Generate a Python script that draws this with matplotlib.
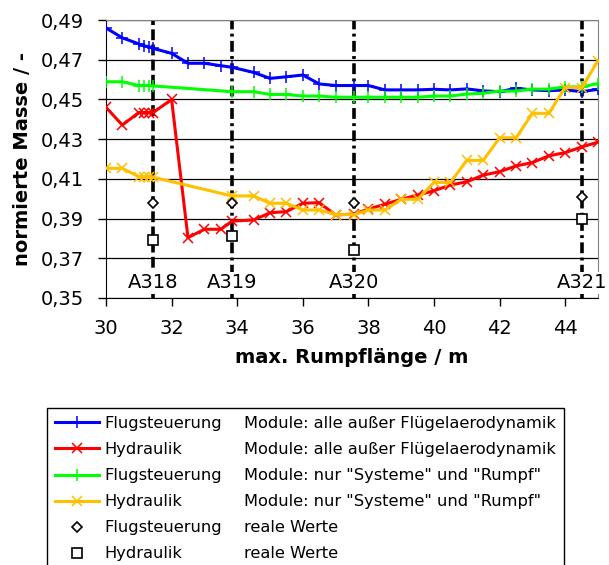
import matplotlib
matplotlib.use('Agg')
import matplotlib.pyplot as plt
from matplotlib.lines import Line2D
from matplotlib.ticker import FuncFormatter

matplotlib.rcParams.update({'font.family': 'DejaVu Sans', 'font.size': 14})

# x positions (max. Rumpflaenge in m)
x_all = [30, 30.5, 31, 31.15, 31.3, 31.44, 32, 32.5, 33, 33.5, 33.84, 34.5, 35, 35.5,
         36, 36.5, 37, 37.57, 38, 38.5, 39, 39.5, 40, 40.5, 41, 41.5, 42, 42.5, 43,
         43.5, 44, 44.51, 45]
x_sys = [30, 30.5, 31, 31.15, 31.3, 31.44, 33.84, 34.5, 35, 35.5,
         36, 36.5, 37, 37.57, 38, 38.5, 39, 39.5, 40, 40.5, 41, 41.5, 42, 42.5, 43,
         43.5, 44, 44.51, 45]

flug_alle = [0.486, 0.481, 0.478, 0.477, 0.4766, 0.4757, 0.4732, 0.4682, 0.4682, 0.467,
             0.4662, 0.4636, 0.4606, 0.4614, 0.4623, 0.4578, 0.457, 0.457, 0.457, 0.4548,
             0.4548, 0.4548, 0.4551, 0.4548, 0.4553, 0.4543, 0.4539, 0.4556, 0.4548,
             0.4544, 0.4548, 0.4539, 0.4551]
hyd_alle = [0.446, 0.4371, 0.4434, 0.4434, 0.4434, 0.4434, 0.450, 0.3804, 0.3846, 0.3846,
            0.3887, 0.3893, 0.3929, 0.3935, 0.3977, 0.398, 0.3918, 0.3923, 0.3948, 0.3972,
            0.3997, 0.4018, 0.404, 0.4069, 0.4085, 0.4119, 0.4136, 0.4165, 0.4182,
            0.4216, 0.4232, 0.4261, 0.4285]
flug_sys = [0.4589, 0.4589, 0.457, 0.457, 0.457, 0.4568, 0.4539, 0.4539, 0.4525, 0.4525,
            0.4517, 0.4517, 0.4511, 0.4511, 0.4511, 0.4511, 0.4511, 0.4511, 0.4517, 0.4517,
            0.4527, 0.4531, 0.4542, 0.4542, 0.4552, 0.4552, 0.4563, 0.4563, 0.458]
hyd_sys = [0.4153, 0.4153, 0.4111, 0.4111, 0.4111, 0.4108, 0.4014, 0.4014, 0.3977, 0.3977,
           0.3943, 0.3943, 0.392, 0.392, 0.3943, 0.3943, 0.3997, 0.3997, 0.4082, 0.4082,
           0.4193, 0.4193, 0.4307, 0.4307, 0.443, 0.443, 0.456, 0.456, 0.4695]

# real aircraft
aircraft = ["A318", "A319", "A320", "A321"]
x_real = [31.44, 33.84, 37.57, 44.51]
flug_real = [0.398, 0.398, 0.398, 0.401]
hyd_real = [0.379, 0.381, 0.374, 0.390]

yticks = [0.35, 0.37, 0.39, 0.41, 0.43, 0.45, 0.47, 0.49]
xticks = [30, 32, 34, 36, 38, 40, 42, 44]

fig = plt.figure(figsize=(6.09, 5.65), dpi=100)
ax = fig.add_axes([0.174, 0.4726, 0.808, 0.492])

for yv in yticks:
    ax.axhline(yv, color='black', linewidth=0.9, zorder=1)

styles = ['--', '-.', '-.', '-.']
for xa, ls in zip(x_real, styles):
    ax.axvline(xa, color='black', linewidth=2.6, linestyle=(0, (3, 1.2)) if ls == '--' else (0, (3, 1.2, 0.8, 1.2)), zorder=2)

lw = 2.2
l1, = ax.plot(x_all, flug_alle, color='#0000FF', marker='+', markersize=8, mew=1.1, linewidth=lw, zorder=3)
l2, = ax.plot(x_all, hyd_alle, color='#FF0000', marker='x', markersize=7, mew=1.1, linewidth=lw, zorder=3)
l3, = ax.plot(x_sys, flug_sys, color='#00FF00', marker='+', markersize=8, mew=1.1, linewidth=lw, zorder=3)
l4, = ax.plot(x_sys, hyd_sys, color='#FFC000', marker='x', markersize=7, mew=1.1, linewidth=lw, zorder=3)
l5, = ax.plot(x_real, flug_real, linestyle='none', marker='D', markersize=5, mfc='white', mec='black', mew=1.2, zorder=4)
l6, = ax.plot(x_real, hyd_real, linestyle='none', marker='s', markersize=6.5, mfc='white', mec='black', mew=1.2, zorder=4)

for name, xa in zip(aircraft, x_real):
    ax.text(xa, 0.3576, name, ha='center', va='center', fontsize=14, zorder=5,
            bbox=dict(facecolor='white', edgecolor='none', pad=1))

ax.set_xlim(30, 45)
ax.set_ylim(0.35, 0.49)
ax.set_xticks(xticks)
ax.set_yticks(yticks)
ax.yaxis.set_major_formatter(FuncFormatter(lambda v, p: ("%.2f" % v).replace('.', ',')))
ax.tick_params(axis='both', direction='out', length=6, width=1, labelsize=14)
ax.tick_params(axis='y', pad=10)
ax.tick_params(axis='x', pad=9)
ax.spines['top'].set_color('#808080')
ax.spines['right'].set_color('#808080')

ax.set_xlabel("max. Rumpflänge / m", fontsize=14, fontweight='bold', labelpad=7.5)
ax.set_ylabel("normierte Masse / -", fontsize=14, fontweight='bold', labelpad=6)

blank = Line2D([], [], linestyle='none')
handles = [l1, l2, l3, l4, l5, l6] + [blank] * 6
labels = ["Flugsteuerung", "Hydraulik", "Flugsteuerung", "Hydraulik", "Flugsteuerung", "Hydraulik",
          "Module: alle außer Flügelaerodynamik", "Module: alle außer Flügelaerodynamik",
          'Module: nur "Systeme" und "Rumpf"', 'Module: nur "Systeme" und "Rumpf"',
          "reale Werte", "reale Werte"]
leg = fig.legend(handles, labels, ncol=2, loc='upper left', bbox_to_anchor=(47 / 609, 1 - 408 / 565),
                 fontsize=11.7, frameon=True, fancybox=False, edgecolor='black', framealpha=1,
                 handlelength=2.7, handletextpad=0.3, columnspacing=-1.59, labelspacing=0.68,
                 borderpad=0.5, borderaxespad=0)
leg.get_frame().set_linewidth(1.0)

fig.savefig("out.png", dpi=100)
